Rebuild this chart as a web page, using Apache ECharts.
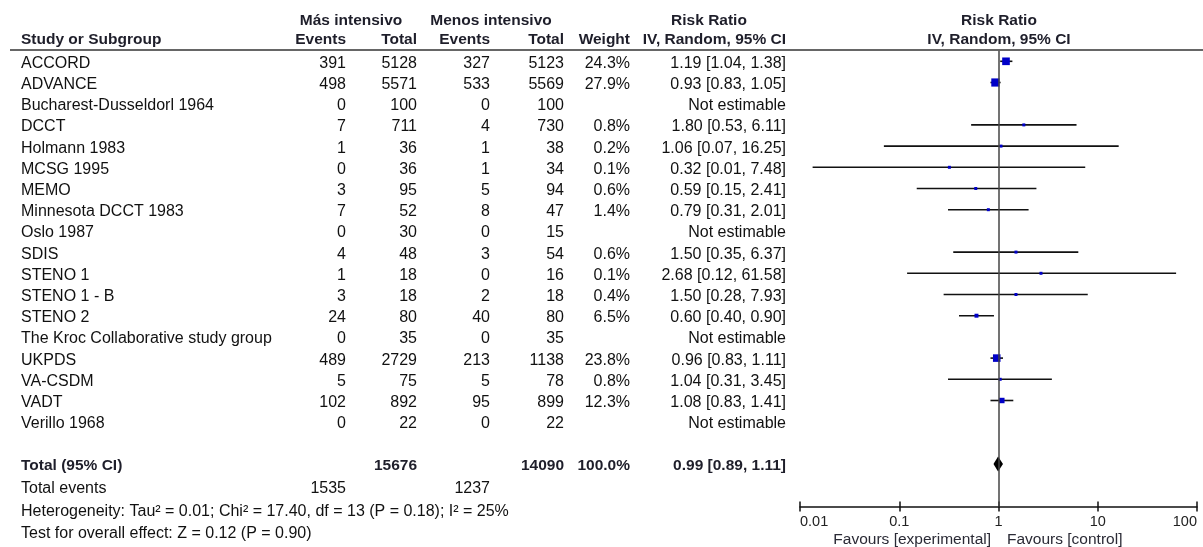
<!DOCTYPE html>
<html><head><meta charset="utf-8">
<script src="https://cdn.jsdelivr.net/npm/echarts@6/dist/echarts.min.js"></script>
<style>html,body{margin:0;padding:0;background:#fff}#c{width:1203px;height:547px}</style>
</head><body><div id="c"></div>
<script>
// ---- data ----
const studies = ['ACCORD','ADVANCE','Bucharest-Dusseldorl 1964','DCCT','Holmann 1983','MCSG 1995','MEMO','Minnesota DCCT 1983','Oslo 1987','SDIS','STENO 1','STENO 1 - B','STENO 2','The Kroc Collaborative study group','UKPDS','VA-CSDM','VADT','Verillo 1968'];
const expEvents = [391,498,0,7,1,0,3,7,0,4,1,3,24,0,489,5,102,0];
const expTotal  = [5128,5571,100,711,36,36,95,52,30,48,18,18,80,35,2729,75,892,22];
const ctlEvents = [327,533,0,4,1,1,5,8,0,3,0,2,40,0,213,5,95,0];
const ctlTotal  = [5123,5569,100,730,38,34,94,47,15,54,16,18,80,35,1138,78,899,22];
const weights   = [24.3,27.9,null,0.8,0.2,0.1,0.6,1.4,null,0.6,0.1,0.4,6.5,null,23.8,0.8,12.3,null];
const riskRatio = [1.19,0.93,null,1.80,1.06,0.32,0.59,0.79,null,1.50,2.68,1.50,0.60,null,0.96,1.04,1.08,null];
const ciLow     = [1.04,0.83,null,0.53,0.07,0.0134,0.15,0.31,null,0.35,0.12,0.28,0.40,null,0.83,0.31,0.83,null];
const ciHigh    = [1.38,1.05,null,6.11,16.25,7.48,2.41,2.01,null,6.37,61.58,7.93,0.90,null,1.11,3.45,1.41,null];
const totalExpTotal = 15676, totalCtlTotal = 14090, totalWeight = '100.0%';
const totalRR = 0.99, totalLow = 0.89, totalHigh = 1.11;
const totalExpEvents = 1535, totalCtlEvents = 1237;
const heterogeneityText = 'Heterogeneity: Tau\u00b2 = 0.01; Chi\u00b2 = 17.40, df = 13 (P = 0.18); I\u00b2 = 25%';
const overallText = 'Test for overall effect: Z = 0.12 (P = 0.90)';
const tickLabels = ['0.01','0.1','1','10','100'];
const favourLeft = 'Favours [experimental]', favourRight = 'Favours [control]';

// ---- layout ----
const FONT = '16px "Liberation Sans", Arial, sans-serif';
const BFONT = 'bold 15.5px "Liberation Sans", Arial, sans-serif';
const TXT = '#111', HDR = '#1e1e2a';
const COL = {name:21, eEv:346, eTot:417, cEv:490, cTot:564, w:630, rr:786};
const TOTAL_ROW = 19, EVENTS_ROW = 20.05, HET_ROW = 21.15, TEST_ROW = 22.17;
const TXT_DY = 2;

function fmt(v){ return v.toFixed(2); }
function t(text, x, y, align, font, fill){
  return {type:'text', silent:true, style:{text:String(text), x:x, y:y, font:font||FONT, fill:fill||TXT,
    align:align||'left', verticalAlign:'middle', textAlign:align||'left', textVerticalAlign:'middle'}};
}

const chart = echarts.init(document.getElementById('c'), null, {renderer:'canvas'});

const tableData = studies.map((s,i)=>[1,i]);
const ciData = [], sqData = [];
studies.forEach((s,i)=>{
  if (riskRatio[i] != null){
    ciData.push([ciLow[i], i, ciHigh[i]]);
    sqData.push({value:[riskRatio[i], i], symbolSize: Math.max(3, 1.55*Math.sqrt(weights[i]))});
  }
});

const option = {
  animation:false,
  backgroundColor:'#fff',
  grid:{left:800, width:397, top:50.7, height:455.8},
  xAxis:[{
    type:'log', logBase:10, min:0.01, max:100, interval:1, position:'bottom',
    axisLine:{onZero:false, lineStyle:{color:'#111', width:1.5}},
    axisTick:{show:true, length:5, lineStyle:{color:'#111', width:1.5}},
    minorTick:{show:false}, splitLine:{show:false},
    axisLabel:{color:'#222', fontFamily:'"Liberation Sans", Arial', fontSize:14.5, margin:8,
      alignMinLabel:'left', alignMaxLabel:'right',
      formatter:(v)=>{ const e=Math.round(Math.log10(v)); return tickLabels[e+2]; }}
  },{
    type:'log', logBase:10, min:0.01, max:100, interval:1, position:'bottom', gridIndex:0,
    axisLine:{show:false, onZero:false}, axisLabel:{show:false}, splitLine:{show:false},
    axisTick:{show:true, inside:true, length:5, lineStyle:{color:'#111', width:1.5}}
  }],
  yAxis:{type:'value', min:-0.5, max:21, inverse:true, show:false},
  graphic:[
    {type:'line', silent:true, shape:{x1:10, y1:50, x2:1203, y2:50}, style:{stroke:'#333', lineWidth:1.5}},
    t('M\u00e1s intensivo', 351, 21, 'center', BFONT, HDR),
    t('Menos intensivo', 491, 21, 'center', BFONT, HDR),
    t('Risk Ratio', 709, 21, 'center', BFONT, HDR),
    t('Risk Ratio', 999, 21, 'center', BFONT, HDR),
    t('Study or Subgroup', COL.name, 39.5, 'left', BFONT, HDR),
    t('Events', COL.eEv, 39.5, 'right', BFONT, HDR),
    t('Total', COL.eTot, 39.5, 'right', BFONT, HDR),
    t('Events', COL.cEv, 39.5, 'right', BFONT, HDR),
    t('Total', COL.cTot, 39.5, 'right', BFONT, HDR),
    t('Weight', COL.w, 39.5, 'right', BFONT, HDR),
    t('IV, Random, 95% CI', COL.rr, 39.5, 'right', BFONT, HDR),
    t('IV, Random, 95% CI', 999, 39.5, 'center', BFONT, HDR),
    t(favourLeft, 991, 539.5, 'right', '15.5px "Liberation Sans", Arial', '#2a2a35'),
    t(favourRight, 1007, 539.5, 'left', '15.5px "Liberation Sans", Arial', '#2a2a35')
  ],
  series:[
    { // study table text
      type:'custom', clip:false, silent:true, data:tableData, z:1,
      renderItem:(params, api)=>{
        const i = params.dataIndex;
        const y = api.coord([1, i])[1] + TXT_DY;
        const ch = [
          t(studies[i], COL.name, y, 'left'),
          t(expEvents[i], COL.eEv, y, 'right'),
          t(expTotal[i], COL.eTot, y, 'right'),
          t(ctlEvents[i], COL.cEv, y, 'right'),
          t(ctlTotal[i], COL.cTot, y, 'right')
        ];
        if (weights[i] != null){
          ch.push(t(weights[i].toFixed(1)+'%', COL.w, y, 'right'));
          ch.push(t(fmt(riskRatio[i])+' ['+fmt(ciLow[i])+', '+fmt(ciHigh[i])+']', COL.rr, y, 'right'));
        } else {
          ch.push(t('Not estimable', COL.rr, y, 'right'));
        }
        return {type:'group', children:ch};
      }
    },
    { // totals and footer text
      type:'custom', clip:false, silent:true, data:[[1, TOTAL_ROW]], z:1,
      renderItem:(params, api)=>{
        const y1 = api.coord([1, TOTAL_ROW])[1] + TXT_DY;
        const y2 = api.coord([1, EVENTS_ROW])[1] + TXT_DY;
        const y3 = api.coord([1, HET_ROW])[1] + TXT_DY;
        const y4 = api.coord([1, TEST_ROW])[1] + TXT_DY;
        return {type:'group', children:[
          t('Total (95% CI)', COL.name, y1, 'left', BFONT, HDR),
          t(totalExpTotal, COL.eTot, y1, 'right', BFONT, HDR),
          t(totalCtlTotal, COL.cTot, y1, 'right', BFONT, HDR),
          t(totalWeight, COL.w, y1, 'right', BFONT, HDR),
          t(fmt(totalRR)+' ['+fmt(totalLow)+', '+fmt(totalHigh)+']', COL.rr, y1, 'right', BFONT, HDR),
          t('Total events', COL.name, y2, 'left'),
          t(totalExpEvents, COL.eEv, y2, 'right'),
          t(totalCtlEvents, COL.cEv, y2, 'right'),
          t(heterogeneityText, COL.name, y3, 'left'),
          t(overallText, COL.name, y4, 'left')
        ]};
      }
    },
    { // confidence intervals
      type:'custom', data:ciData, z:2, clip:false,
      renderItem:(params, api)=>{
        const a = api.coord([api.value(0), api.value(1)]);
        const b = api.coord([api.value(2), api.value(1)]);
        return {type:'line', shape:{x1:a[0], y1:a[1], x2:b[0], y2:b[1]}, style:{stroke:'#111', lineWidth:1.6}};
      },
      markLine:{silent:true, symbol:'none', label:{show:false},
        lineStyle:{color:'#444', width:1.5, type:'solid'}, data:[{xAxis:1}]}
    },
    { // weighted squares
      type:'scatter', data:sqData, symbol:'rect', z:3,
      itemStyle:{color:'#0000c8', opacity:1}
    },
    { // pooled diamond
      type:'custom', data:[[totalLow, TOTAL_ROW, totalRR, totalHigh]], z:4,
      renderItem:(params, api)=>{
        const row = api.value(1);
        const l = api.coord([api.value(0), row]);
        const c = api.coord([api.value(2), row]);
        const r = api.coord([api.value(3), row]);
        const h = 7.5;
        return {type:'polygon', shape:{points:[[l[0],l[1]],[c[0],c[1]-h],[r[0],r[1]],[c[0],c[1]+h]]}, style:{fill:'#000'}};
      }
    }
  ]
};
chart.setOption(option);
</script>
</body></html>
